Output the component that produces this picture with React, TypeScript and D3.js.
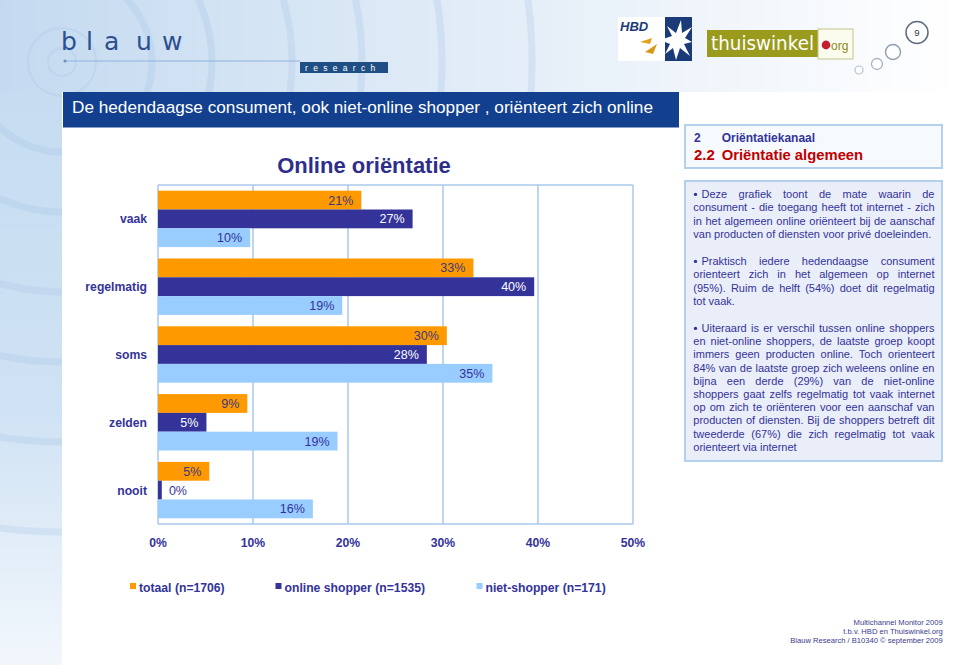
import React from "react";
import * as d3 from "d3";

const categories = ["vaak", "regelmatig", "soms", "zelden", "nooit"];
const seriesNames = ["totaal (n=1706)", "online shopper (n=1535)", "niet-shopper (n=171)"];
const totaal = [21.4, 33.2, 30.4, 9.4, 5.4];
const online = [26.8, 39.6, 28.3, 5.1, 0.4];
const nietShopper = [9.7, 19.4, 35.2, 18.9, 16.3];
const tickValues = [0, 10, 20, 30, 40, 50];

const chartTitle = "Online oriëntatie";
const pageTitle = "De hedendaagse consument, ook niet-online shopper , oriënteert zich online";

const para1 = [
  "Deze grafiek toont de mate waarin de",
  "consument - die toegang heeft tot internet - zich",
  "in het algemeen online oriënteert bij de aanschaf",
  "van producten of diensten voor privé doeleinden.",
];
const para2 = [
  "Praktisch iedere hedendaagse consument",
  "orienteert zich in het algemeen op internet",
  "(95%). Ruim de helft (54%) doet dit regelmatig",
  "tot vaak.",
];
const para3 = [
  "Uiteraard is er verschil tussen online shoppers",
  "en niet-online shoppers, de laatste groep koopt",
  "immers geen producten online. Toch orienteert",
  "84% van de laatste groep zich weleens online en",
  "bijna een derde (29%) van de niet-online",
  "shoppers gaat zelfs regelmatig tot vaak internet",
  "op om zich te oriënteren voor een aanschaf van",
  "producten of diensten. Bij de shoppers betreft dit",
  "tweederde (67%) die zich regelmatig tot vaak",
  "orienteert via internet",
];
const footerLines = [
  "Multichannel Monitor 2009",
  "t.b.v. HBD en Thuiswinkel.org",
  "Blauw Research / B10340 © september 2009",
];

const FONT = "'Liberation Sans', Arial, sans-serif";
const NAVY = "#333399";
const COLORS = ["#FF9900", "#333399", "#99CCFF"];
const LABEL_COLORS = ["#3a3a80", "#ffffff", "#333399"];

let ctx: CanvasRenderingContext2D | null = null;
function measure(text: string, font: string): number {
  if (!ctx) ctx = document.createElement("canvas").getContext("2d");
  if (!ctx) return text.length * 5.5;
  ctx.font = font;
  return ctx.measureText(text).width;
}

function JustLine({ text, x0, x1, y, justify, size }: { text: string; x0: number; x1: number; y: number; justify: boolean; size: number }) {
  const font = `${size}px 'Liberation Sans', Arial, sans-serif`;
  if (!justify) {
    return (
      <text x={x0} y={y} fontSize={size} fontFamily={FONT} fill={NAVY}>
        {text}
      </text>
    );
  }
  const words = text.split(" ");
  const widths = words.map((w) => measure(w, font));
  const total = widths.reduce((a, b) => a + b, 0);
  const gap = words.length > 1 ? (x1 - x0 - total) / (words.length - 1) : 0;
  let cx = x0;
  const xs = widths.map((w) => {
    const p = cx;
    cx += w + gap;
    return p;
  });
  return (
    <text y={y} fontSize={size} fontFamily={FONT} fill={NAVY}>
      {words.map((w, i) => (
        <tspan key={i} x={xs[i]}>
          {w}
        </tspan>
      ))}
    </text>
  );
}

function Paragraph({ lines, y0, step }: { lines: string[]; y0: number; step: number }) {
  return (
    <g>
      <circle cx={695.5} cy={y0 - 3.6} r={1.7} fill={NAVY} />
      {lines.map((l, i) => (
        <JustLine
          key={i}
          text={l}
          x0={i === 0 ? 701.5 : 693.3}
          x1={934.5}
          y={y0 + i * step}
          justify={i < lines.length - 1}
          size={11}
        />
      ))}
    </g>
  );
}

export default function App() {
  const series = [totaal, online, nietShopper];
  const x = d3.scaleLinear().domain([0, 50]).range([158, 633]);
  const y = d3.scaleBand<string>().domain(categories).range([185, 524]).paddingInner(0.168).paddingOuter(0.084);
  const sub = d3.scaleBand<number>().domain([0, 1, 2]).range([0, y.bandwidth()]);

  const arcRadii = [14, 34, 90, 150, 230, 300, 380, 470];
  const legendX = [130, 275.5, 476.5];

  return (
    <svg width={960} height={665} style={{ position: "absolute", left: 0, top: 0 }} fontFamily={FONT}>
      <defs>
        <linearGradient id="hdr" x1="0" y1="0" x2="1" y2="0">
          <stop offset="0" stopColor="#c4daf0" />
          <stop offset="0.35" stopColor="#d9e7f5" />
          <stop offset="0.7" stopColor="#eef4fa" />
          <stop offset="1" stopColor="#ffffff" />
        </linearGradient>
        <linearGradient id="strip" x1="0" y1="0" x2="0" y2="1">
          <stop offset="0" stopColor="#c6dcf1" />
          <stop offset="0.55" stopColor="#cfe2f4" />
          <stop offset="1" stopColor="#f2f7fc" />
        </linearGradient>
        <clipPath id="bgclip">
          <rect x={0} y={0} width={960} height={92} />
          <rect x={0} y={92} width={62} height={573} />
        </clipPath>
      </defs>
      <rect x={0} y={0} width={960} height={665} fill="#ffffff" />
      <rect x={0} y={0} width={960} height={92} fill="url(#hdr)" />
      <rect x={0} y={92} width={62} height={573} fill="url(#strip)" />
      <g clipPath="url(#bgclip)">
        {arcRadii.map((r, i) => (
          <circle key={i} cx={62} cy={62} r={r} fill="none" stroke="#9fc0e4" strokeOpacity={0.25} strokeWidth={i < 2 ? 2 : 7} />
        ))}
      </g>

      {/* blauw logo */}
      {["b", "l", "a", "u", "w"].map((c, i) => (
        <text key={i} x={[61, 86, 104, 136, 162][i]} y={50} fontSize={25} fontFamily="'DejaVu Sans', sans-serif" fill="#2b4f8f">
          {c}
        </text>
      ))}
      <line x1={64} y1={61} x2={300} y2={61} stroke="#8fb3da" strokeWidth={1} />
      <circle cx={65} cy={61} r={1.6} fill="#6f90b8" />
      <rect x={300} y={62} width={88} height={11} fill="#1f4f84" />
      <text x={305} y={70.5} fontSize={8.5} fill="#ffffff" letterSpacing={5.3}>
        research
      </text>

      {/* HBD logo */}
      <rect x={618} y={17} width={74} height={44} fill="#ffffff" />
      <rect x={665} y={17} width={27} height={44} fill="#1b3b78" />
      <polygon
        points="660,40 672,36 667,26 676,33 681,20 682,33 692,27 685,38 692,42 684,44 690,56 680,48 676,60 673,48 665,54 670,44"
        fill="#ffffff"
      />
      <text x={620} y={31} fontSize={13} fontWeight="bold" fontStyle="italic" fill="#1b3b78">
        HBD
      </text>
      <polygon points="640,42 652,38 650,44" fill="#e0a020" />
      <polygon points="645,52 657,44 653,54" fill="#d89818" />

      {/* thuiswinkel logo */}
      <rect x={707} y={30} width={111} height={27} fill="#9a9b1d" />
      <text x={711} y={50} fontSize={19} fontFamily="'DejaVu Sans', sans-serif" fill="#ffffff" textLength={103} lengthAdjust="spacingAndGlyphs">
        thuiswinkel
      </text>
      <rect x={818} y={29} width={35} height={30} fill="#fbfbee" stroke="#c4c48a" strokeWidth={1} />
      <circle cx={826} cy={45} r={5} fill="#c41e2e" stroke="#ffffff" strokeWidth={1.2} />
      <text x={831} y={49.5} fontSize={12} fill="#8a8a1c">
        org
      </text>

      {/* page number bubbles */}
      <circle cx={859} cy={70} r={4} fill="#ffffff" fillOpacity={0.5} stroke="#b5c2d0" strokeWidth={1.2} />
      <circle cx={877} cy={64} r={5.5} fill="#ffffff" fillOpacity={0.5} stroke="#a8b6c6" strokeWidth={1.3} />
      <circle cx={893} cy={52} r={7.5} fill="#ffffff" fillOpacity={0.5} stroke="#8e9db0" strokeWidth={1.4} />
      <circle cx={917} cy={32.5} r={11} fill="#ffffff" stroke="#5e6c80" strokeWidth={1.5} />
      <text x={917} y={36} fontSize={9.5} textAnchor="middle" fill="#333344">
        9
      </text>

      {/* title bar */}
      <rect x={63} y={92} width={616} height={35.5} fill="#12408f" />
      <text x={72} y={112.5} fontSize={17.2} fill="#ffffff">
        {pageTitle}
      </text>

      {/* chart title */}
      <text x={364} y={173} fontSize={22} fontWeight="bold" textAnchor="middle" fill="#2e2e8a">
        {chartTitle}
      </text>

      {/* grid */}
      {tickValues.map((t) => (
        <line key={t} x1={x(t)} x2={x(t)} y1={185} y2={524} stroke="#a9c9ea" strokeWidth={1.5} />
      ))}
      <line x1={x(0)} x2={x(50)} y1={185} y2={185} stroke="#a9c9ea" strokeWidth={1.5} />
      <line x1={x(0)} x2={x(50)} y1={524} y2={524} stroke="#a9c9ea" strokeWidth={1.5} />

      {/* bars */}
      {categories.map((c, ci) => (
        <g key={c}>
          {series.map((s, si) => {
            const by = (y(c) as number) + (sub(si) as number);
            const bh = sub.bandwidth();
            const v = s[ci];
            const xe = x(v);
            const lbl = `${Math.round(v)}%`;
            const inside = xe - 8 >= x(0) + 29;
            const lx = inside ? xe - 8 : x(0) + 29;
            return (
              <g key={si}>
                <rect x={x(0)} y={by} width={xe - x(0)} height={bh} fill={COLORS[si]} />
                <text x={lx} y={by + bh / 2 + 4.5} fontSize={12.5} textAnchor="end" fill={inside ? LABEL_COLORS[si] : NAVY}>
                  {lbl}
                </text>
              </g>
            );
          })}
          <text x={147} y={(y(c) as number) + y.bandwidth() / 2 + 4.5} fontSize={12.2} fontWeight="bold" textAnchor="end" fill={NAVY}>
            {c}
          </text>
        </g>
      ))}

      {/* axis labels */}
      {tickValues.map((t) => (
        <text key={t} x={x(t)} y={547} fontSize={12.2} fontWeight="bold" textAnchor="middle" fill={NAVY}>
          {`${t}%`}
        </text>
      ))}

      {/* legend */}
      {seriesNames.map((n, i) => (
        <g key={n}>
          <rect x={legendX[i]} y={583} width={6} height={6} fill={COLORS[i]} />
          <text x={legendX[i] + 9} y={591.5} fontSize={12.2} fontWeight="bold" fill={NAVY}>
            {n}
          </text>
        </g>
      ))}

      {/* right boxes */}
      <rect x={685} y={125} width={257} height={43} fill="#f7fafd" stroke="#b3d1ec" strokeWidth={2} />
      <text x={694} y={141.7} fontSize={12} fontWeight="bold" fill={NAVY}>
        2
      </text>
      <text x={721.7} y={141.7} fontSize={12} fontWeight="bold" fill={NAVY}>
        Oriëntatiekanaal
      </text>
      <text x={694} y={159.5} fontSize={15} fontWeight="bold" fill="#c00000">
        2.2
      </text>
      <text x={721.7} y={159.5} fontSize={14.8} fontWeight="bold" fill="#c00000">
        Oriëntatie algemeen
      </text>

      <rect x={685} y={181} width={257} height={280} fill="#eaeef8" stroke="#b3d1ec" strokeWidth={2} />
      <Paragraph lines={para1} y0={198} step={13.4} />
      <Paragraph lines={para2} y0={265} step={13.4} />
      <Paragraph lines={para3} y0={332} step={13.2} />

      {/* footer */}
      {footerLines.map((l, i) => (
        <text key={i} x={942.7} y={625 + i * 9} fontSize={7.6} textAnchor="end" fill="#3a3a8a">
          {l}
        </text>
      ))}
    </svg>
  );
}
